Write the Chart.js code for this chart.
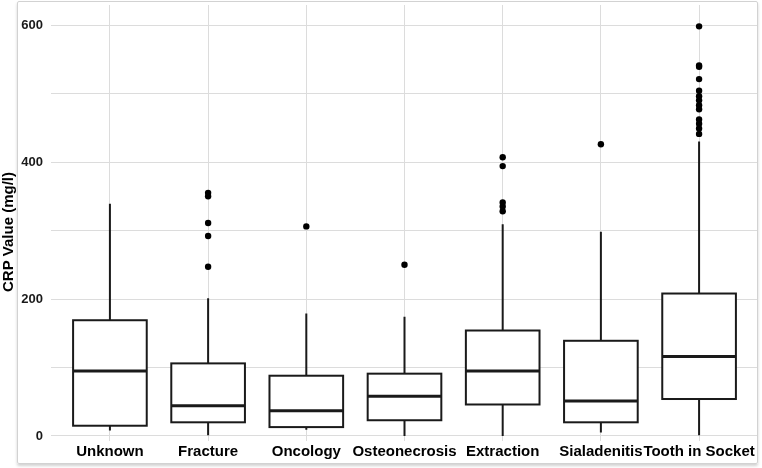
<!DOCTYPE html>
<html><head><meta charset="utf-8">
<script src="https://cdn.jsdelivr.net/npm/chart.js@4"></script>
<style>
html,body{margin:0;padding:0;background:#fff;}
#wrap{position:relative;width:762px;height:468px;overflow:hidden;}
#frame{position:absolute;left:17px;top:1px;width:739px;height:461px;border:1px solid #d2d2d2;box-shadow:0 2px 3px rgba(0,0,0,0.18);pointer-events:none;border-radius:2px;}
canvas{position:absolute;left:0;top:0;}
</style></head>
<body><div id="wrap"><canvas id="c" width="762" height="468"></canvas><div id="frame"></div></div>
<script>
const categories = ['Unknown','Fracture','Oncology','Osteonecrosis','Extraction','Sialadenitis','Tooth in Socket'];
const whiskerLow  = [8, 1, 9, 0, 0, 5, 1];
const q1          = [15, 20, 13, 23, 46, 20, 54];
const median      = [95, 44, 37, 58, 95, 51, 116];
const q3          = [169, 106, 88, 91, 154, 139, 208];
const whiskerHigh = [339, 201, 179, 174, 309, 298, 430];
const outliers = [
  [],
  [355, 350, 311, 292, 247],
  [306],
  [250],
  [407, 394, 341, 335, 328],
  [426],
  [598, 541, 539, 521, 504, 496, 490, 483, 477, 462, 456, 449, 441]
];
const yTicks = [0, 100, 200, 300, 400, 500, 600];
const yLabelled = [0, 200, 400, 600];
const yTitle = 'CRP Value (mg/l)';

const outlierPoints = [];
outliers.forEach((arr, i) => arr.forEach(v => outlierPoints.push({x: i, y: v})));

const boxPlugin = {
  id: 'boxes',
  beforeDatasetsDraw(chart) {
    const ctx = chart.ctx, xs = chart.scales.x, ys = chart.scales.y;
    const half = 0.375;
    ctx.save();
    ctx.strokeStyle = '#1a1a1a';
    ctx.lineCap = 'butt';
    categories.forEach((c, i) => {
      const xc = xs.getPixelForValue(i);
      const xl = xs.getPixelForValue(i - half), xr = xs.getPixelForValue(i + half);
      const yq1 = ys.getPixelForValue(q1[i]), yq3 = ys.getPixelForValue(q3[i]);
      const ymed = ys.getPixelForValue(median[i]);
      const ylo = ys.getPixelForValue(whiskerLow[i]), yhi = ys.getPixelForValue(whiskerHigh[i]);
      ctx.lineWidth = 2;
      ctx.beginPath();
      ctx.moveTo(xc, yq3); ctx.lineTo(xc, yhi);
      ctx.moveTo(xc, yq1); ctx.lineTo(xc, ylo);
      ctx.stroke();
      ctx.fillStyle = '#ffffff';
      ctx.fillRect(xl, yq3, xr - xl, yq1 - yq3);
      ctx.strokeRect(xl, yq3, xr - xl, yq1 - yq3);
      ctx.lineWidth = 3;
      ctx.beginPath();
      ctx.moveTo(xl, ymed); ctx.lineTo(xr, ymed);
      ctx.stroke();
    });
    ctx.restore();
  },
  afterDraw(chart) {
    const ctx = chart.ctx;
    ctx.save();
    ctx.translate(9, 232);
    ctx.rotate(-Math.PI / 2);
    ctx.font = 'bold 15px "Liberation Sans", Arial, sans-serif';
    ctx.fillStyle = '#000';
    ctx.textAlign = 'center';
    ctx.textBaseline = 'middle';
    ctx.fillText(yTitle, 0, 0);
    ctx.restore();
  }
};

function zeroPad(axis) {
  axis.paddingTop = 0; axis.paddingBottom = 0;
  axis.paddingLeft = 0; axis.paddingRight = 0;
}

new Chart(document.getElementById('c'), {
  type: 'scatter',
  data: {
    datasets: [{
      data: outlierPoints,
      backgroundColor: '#000',
      borderWidth: 0,
      pointRadius: 3.2,
      pointHoverRadius: 3.2
    }]
  },
  options: {
    responsive: false,
    animation: false,
    devicePixelRatio: 1,
    layout: {padding: {left: 0, right: 4, top: 5, bottom: 0}},
    plugins: {legend: {display: false}, tooltip: {enabled: false}},
    scales: {
      x: {
        type: 'linear',
        min: -0.6, max: 6.6,
        afterBuildTicks: (axis) => { axis.ticks = categories.map((_, i) => ({value: i})); },
        afterFit: (axis) => { axis.height = 27; zeroPad(axis); },
        grid: {color: '#dcdcdc', lineWidth: 1, drawTicks: false},
        border: {display: false},
        ticks: {
          autoSkip: false, maxRotation: 0, padding: 2,
          color: '#000',
          font: {family: '"Liberation Sans", Arial, sans-serif', size: 15, weight: 'bold'},
          callback: (v) => categories[v]
        }
      },
      y: {
        type: 'linear',
        min: -7.3, max: 629.2,
        afterBuildTicks: (axis) => { axis.ticks = yTicks.map(v => ({value: v})); },
        afterFit: (axis) => { axis.width = 51; zeroPad(axis); },
        grid: {color: '#dcdcdc', lineWidth: 1, drawTicks: false},
        border: {display: false},
        ticks: {
          padding: 8,
          color: '#1a1a1a',
          font: {family: '"Liberation Sans", Arial, sans-serif', size: 13, weight: 'bold'},
          callback: (v) => yLabelled.includes(v) ? String(v) : ''
        }
      }
    }
  },
  plugins: [boxPlugin]
});
</script>
</body></html>
